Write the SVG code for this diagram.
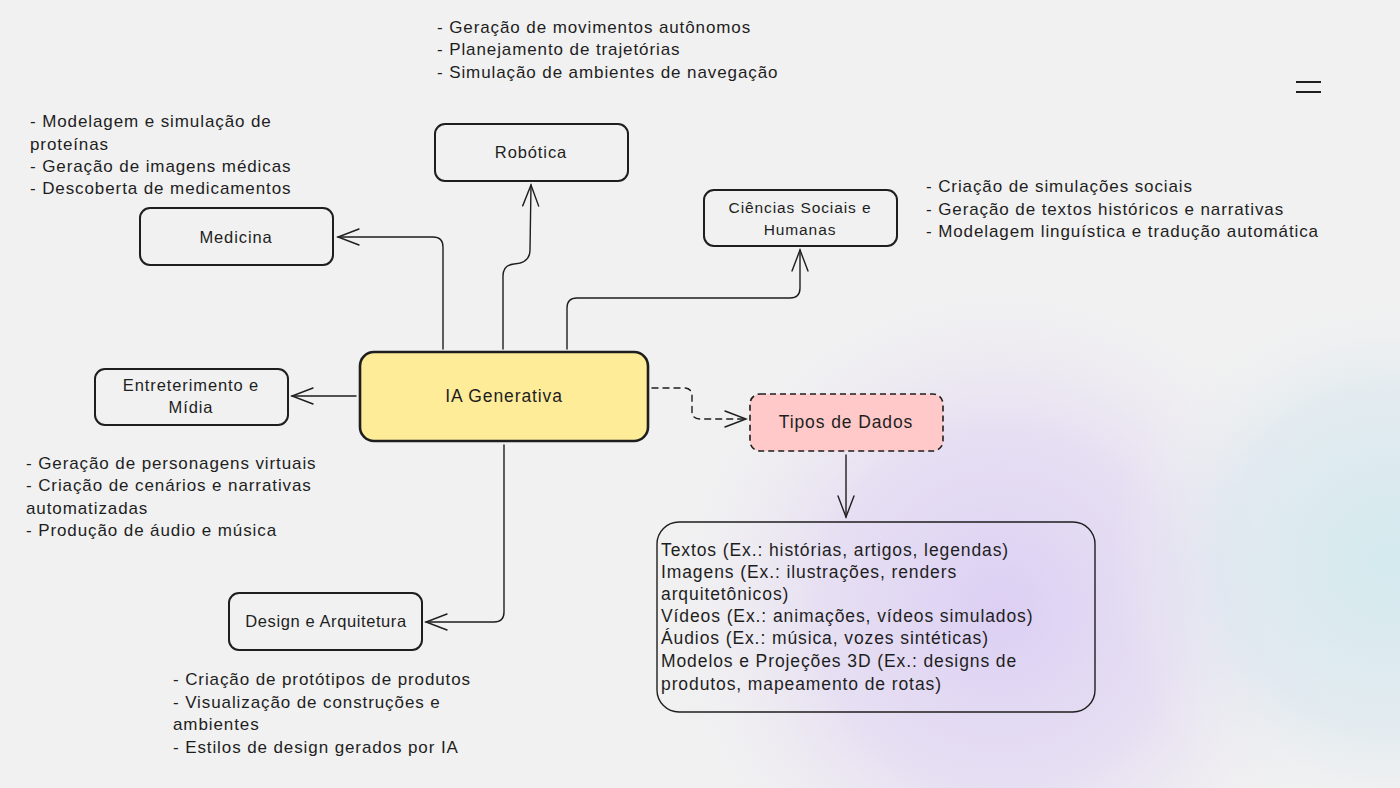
<svg xmlns="http://www.w3.org/2000/svg" width="1400" height="788" viewBox="0 0 1400 788">
<defs>
<radialGradient id="gPurple" cx="1000" cy="610" r="360" gradientUnits="userSpaceOnUse">
<stop offset="0" stop-color="#dccff4" stop-opacity="1"/>
<stop offset="0.5" stop-color="#e3d9f3" stop-opacity="0.75"/>
<stop offset="1" stop-color="#f1f1f1" stop-opacity="0"/>
</radialGradient>
<radialGradient id="gBlue" cx="1390" cy="560" r="280" gradientUnits="userSpaceOnUse">
<stop offset="0" stop-color="#d3eaee" stop-opacity="1"/>
<stop offset="0.6" stop-color="#d9e7ef" stop-opacity="0.6"/>
<stop offset="1" stop-color="#f1f1f1" stop-opacity="0"/>
</radialGradient>
<marker id="arr" viewBox="0 0 24 20" refX="22" refY="10" markerWidth="24" markerHeight="20" markerUnits="userSpaceOnUse" orient="auto">
<path d="M1 2 L22 10 L1 18" fill="none" stroke="#1e1e1e" stroke-width="1.4" stroke-linecap="round"/>
</marker>
</defs>
<style>
text{font-family:"Liberation Sans","Open Sans",sans-serif;fill:#1e1e1e;letter-spacing:0.9px;}
.node rect{stroke:#1e1e1e;stroke-width:2;}
.lbl{font-size:16.5px;text-anchor:middle;dominant-baseline:central;}
.list{font-size:17px;}
.conn path{fill:none;stroke:#1e1e1e;stroke-width:1.4;stroke-linecap:round;stroke-linejoin:round;}
</style>
<rect x="0" y="0" width="1400" height="788" fill="#f1f1f1"/>
<rect x="0" y="0" width="1400" height="788" fill="url(#gPurple)"/>
<rect x="0" y="0" width="1400" height="788" fill="url(#gBlue)"/>

<g id="equals" stroke="#1e1e1e" stroke-width="2">
<line x1="1296" y1="82" x2="1321" y2="82"/>
<line x1="1296" y1="92" x2="1321" y2="92"/>
</g>

<g id="connectors" class="conn">
<path d="M443 349 L443 247 Q443 237 433 237 L338 237" marker-end="url(#arr)"/>
<path d="M503 349 L503 276 Q503 265 514 264 Q530 263 530 250 L531 185" marker-end="url(#arr)"/>
<path d="M567 349 L567 308 Q567 298 577 298 L790 298 Q800 298 800 288 L800 250" marker-end="url(#arr)"/>
<path d="M356 396 L292 396" marker-end="url(#arr)"/>
<path d="M504 445 L504 612 Q504 622 494 622 L426 622" marker-end="url(#arr)"/>
<path d="M652 388 L684 388 Q692 388 692 396 L692 411 Q692 419 700 419 L746 419" stroke-dasharray="6 5" marker-end="url(#arr)"/>
<path d="M846 455 L846 517" marker-end="url(#arr)"/>
</g>

<g id="ia-generativa" class="node">
<rect x="360" y="352" width="288" height="89" rx="14" fill="#ffec99" style="stroke-width:2.6"/>
<text class="lbl" x="504" y="396" style="font-size:17.5px">IA Generativa</text>
</g>
<g id="tipos-de-dados" class="node">
<rect x="750" y="394" width="193" height="57" rx="10" fill="#ffc9c9" stroke-dasharray="6 4" style="stroke-width:1.6"/>
<text class="lbl" x="846" y="422" style="font-size:17.5px">Tipos de Dados</text>
</g>
<g id="robotica" class="node">
<rect x="435" y="124" width="193" height="57" rx="10" fill="none"/>
<text class="lbl" x="531" y="152">Robótica</text>
</g>
<g id="medicina" class="node">
<rect x="140" y="208" width="193" height="57" rx="10" fill="none"/>
<text class="lbl" x="236" y="237">Medicina</text>
</g>
<g id="ciencias" class="node">
<rect x="704" y="190" width="193" height="56" rx="10" fill="none"/>
<text class="lbl" x="800" y="207" style="font-size:15.5px">Ciências Sociais e</text>
<text class="lbl" x="800" y="229" style="font-size:15.5px">Humanas</text>
</g>
<g id="entretenimento" class="node">
<rect x="95" y="369" width="193" height="56" rx="10" fill="none"/>
<text class="lbl" x="191" y="385">Entreterimento e</text>
<text class="lbl" x="191" y="407">Mídia</text>
</g>
<g id="design" class="node">
<rect x="229" y="593" width="193" height="57" rx="10" fill="none"/>
<text class="lbl" x="326" y="621" style="letter-spacing:0.6px">Design e Arquitetura</text>
</g>
<g id="tipos-lista" class="node">
<rect x="657" y="522" width="438" height="190" rx="22" fill="none" style="stroke-width:1.4"/>
<text class="list" x="661" y="556" style="font-size:17.5px">Textos (Ex.: histórias, artigos, legendas)</text>
<text class="list" x="661" y="578" style="font-size:17.5px">Imagens (Ex.: ilustrações, renders</text>
<text class="list" x="661" y="600" style="font-size:17.5px">arquitetônicos)</text>
<text class="list" x="661" y="622" style="font-size:17.5px">Vídeos (Ex.: animações, vídeos simulados)</text>
<text class="list" x="661" y="644" style="font-size:17.5px">Áudios (Ex.: música, vozes sintéticas)</text>
<text class="list" x="661" y="667" style="font-size:17.5px">Modelos e Projeções 3D (Ex.: designs de</text>
<text class="list" x="661" y="690" style="font-size:17.5px">produtos, mapeamento de rotas)</text>
</g>

<g id="robotica-notas">
<text class="list" x="437" y="33">- Geração de movimentos autônomos</text>
<text class="list" x="437" y="55">- Planejamento de trajetórias</text>
<text class="list" x="437" y="78">- Simulação de ambientes de navegação</text>
</g>
<g id="medicina-notas">
<text class="list" x="30" y="127">- Modelagem e simulação de</text>
<text class="list" x="30" y="150">proteínas</text>
<text class="list" x="30" y="172">- Geração de imagens médicas</text>
<text class="list" x="30" y="194">- Descoberta de medicamentos</text>
</g>
<g id="ciencias-notas">
<text class="list" x="926" y="192">- Criação de simulações sociais</text>
<text class="list" x="926" y="215">- Geração de textos históricos e narrativas</text>
<text class="list" x="926" y="237">- Modelagem linguística e tradução automática</text>
</g>
<g id="entretenimento-notas">
<text class="list" x="26" y="469">- Geração de personagens virtuais</text>
<text class="list" x="26" y="491">- Criação de cenários e narrativas</text>
<text class="list" x="26" y="514">automatizadas</text>
<text class="list" x="26" y="536">- Produção de áudio e música</text>
</g>
<g id="design-notas">
<text class="list" x="173" y="685">- Criação de protótipos de produtos</text>
<text class="list" x="173" y="708">- Visualização de construções e</text>
<text class="list" x="173" y="730">ambientes</text>
<text class="list" x="173" y="753">- Estilos de design gerados por IA</text>
</g>
</svg>
